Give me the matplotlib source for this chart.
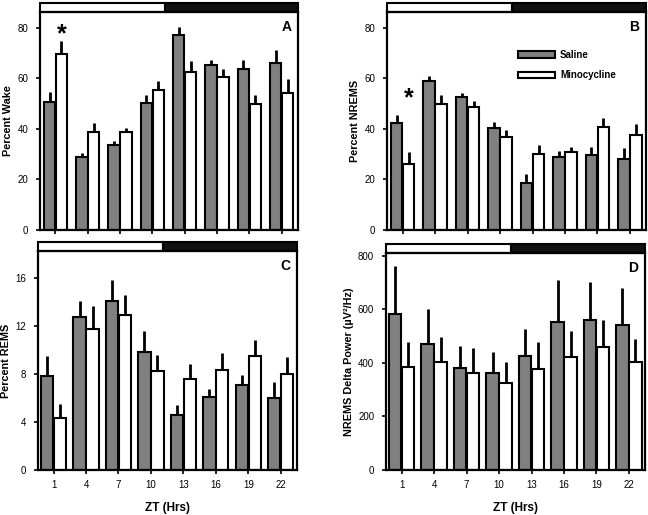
import numpy as np
import matplotlib
matplotlib.use("Agg")
import matplotlib.pyplot as plt
from matplotlib.patches import Rectangle

plt.rcParams['font.family'] = ['Liberation Sans', 'DejaVu Sans']

# ZT bins
zt = [1, 4, 7, 10, 13, 16, 19, 22]

# A: percent wake
wake_sal = [50.5, 28.8, 33.7, 50.4, 77.0, 65.2, 63.6, 66.1]
wake_sal_err = [4.1, 1.6, 1.7, 3.2, 3.4, 2.2, 3.7, 5.2]
wake_min = [69.7, 38.6, 38.6, 55.4, 62.7, 60.7, 49.7, 54.3]
wake_min_err = [5.0, 3.7, 1.6, 3.4, 4.3, 3.2, 3.9, 5.5]

# B: percent NREMS
nrem_sal = [42.2, 58.8, 52.5, 40.2, 18.8, 28.8, 29.6, 28.3]
nrem_sal_err = [3.2, 2.0, 1.7, 2.5, 3.2, 2.3, 3.2, 4.1]
nrem_min = [26.3, 49.9, 48.7, 36.8, 30.0, 30.7, 40.9, 37.7]
nrem_min_err = [4.4, 3.5, 2.2, 2.6, 3.5, 2.1, 3.3, 4.1]

# C: percent REMS
rem_sal = [7.8, 12.75, 14.1, 9.8, 4.55, 6.1, 7.1, 6.0]
rem_sal_err = [1.67, 1.36, 1.76, 1.76, 0.87, 0.66, 0.83, 1.31]
rem_min = [4.3, 11.77, 12.94, 8.26, 7.55, 8.3, 9.5, 8.0]
rem_min_err = [1.2, 1.92, 1.66, 1.34, 1.25, 1.45, 1.33, 1.41]

# D: NREMS delta power
delta_sal = [583, 470, 383, 361, 426, 552, 559, 542]
delta_sal_err = [180, 131, 82, 80, 102, 157, 143, 137]
delta_min = [386, 402, 364, 324, 376, 424, 460, 404]
delta_min_err = [93, 94, 91, 78, 101, 94, 100, 87]

GREY = '#808080'
fig = plt.figure(figsize=(6.48, 5.15), dpi=100)

panels = [
    # rect, sal, sal_err, min, min_err, ylim, yticks, ylabel, letter, width, xlabels
    ([0.0617, 0.5534, 0.398, 0.4233], wake_sal, wake_sal_err, wake_min, wake_min_err,
     86.3, [0, 20, 40, 60, 80], 'Percent Wake', 'A', 0.37, False),
    ([0.5972, 0.5534, 0.400, 0.4233], nrem_sal, nrem_sal_err, nrem_min, nrem_min_err,
     86.3, [0, 20, 40, 60, 80], 'Percent NREMS', 'B', 0.37, False),
    ([0.0586, 0.0874, 0.3997, 0.4252], rem_sal, rem_sal_err, rem_min, rem_min_err,
     18.25, [0, 4, 8, 12, 16], 'Percent REMS', 'C', 0.40, True),
    ([0.5957, 0.0874, 0.400, 0.4213], delta_sal, delta_sal_err, delta_min, delta_min_err,
     811, [0, 200, 400, 600, 800], u'NREMS Delta Power (\u00b5V\u00b2/Hz)', 'D', 0.40, True),
]

axes = []
for rect, s, se, m, me, ytop, yt, ylab, letter, w, xl in panels:
    ax = fig.add_axes(rect)
    x = np.arange(len(zt))
    ax.bar(x - w / 2, s, w * 0.95, color=GREY, edgecolor='black', linewidth=1.5, zorder=2)
    ax.bar(x + w / 2, m, w * 0.95, color='white', edgecolor='black', linewidth=1.5, zorder=2)
    # one-sided error bars
    ax.vlines(x - w / 2, s, np.array(s) + np.array(se), color='black', lw=2, zorder=1)
    ax.vlines(x + w / 2, m, np.array(m) + np.array(me), color='black', lw=2, zorder=1)

    ax.set_xlim(-0.48, 7.5)
    ax.set_ylim(0, ytop)
    ax.set_yticks(yt)
    ax.set_xticks(x)
    if xl:
        ax.set_xticklabels([str(z) for z in zt])
        ax.set_xlabel('ZT (Hrs)', fontsize=8.5, fontweight='bold', labelpad=8)
    else:
        ax.set_xticklabels([])
    ax.tick_params(axis='both', direction='out', length=3, width=1.2, labelsize=7)
    ax.tick_params(axis='y', pad=5.5)
    ax.tick_params(axis='x', pad=4.5)
    ax.set_ylabel(ylab, fontsize=7.8, fontweight='bold', labelpad=3)
    for sp in ax.spines.values():
        sp.set_linewidth(1.6)

    # light/dark bar above each panel
    h = 9.0 / 218
    ax.add_patch(Rectangle((0, 1), 0.484, h, transform=ax.transAxes, facecolor='white',
                           edgecolor='black', lw=1.5, clip_on=False))
    ax.add_patch(Rectangle((0.484, 1), 0.516, h, transform=ax.transAxes, facecolor='#111111',
                           edgecolor='black', lw=1.5, clip_on=False))

    ax.text(0.955, 0.93, letter, transform=ax.transAxes, fontsize=10, fontweight='bold',
            ha='center', va='center')
    axes.append(ax)

# significance markers at ZT1 (minocycline bar)
axes[0].text(0 + 0.37 / 2, 77.5, '*', fontsize=18, fontweight='bold', ha='center', va='center')
axes[1].text(0 + 0.37 / 2, 52, '*', fontsize=18, fontweight='bold', ha='center', va='center')

# legend in panel B
axb = axes[1]
axb.add_patch(Rectangle((0.506, 0.787), 0.143, 0.032, transform=axb.transAxes,
                        facecolor=GREY, edgecolor='black', lw=1.5))
axb.add_patch(Rectangle((0.506, 0.695), 0.143, 0.032, transform=axb.transAxes,
                        facecolor='white', edgecolor='black', lw=1.5))
axb.text(0.668, 0.803, 'Saline', transform=axb.transAxes, fontsize=7, fontweight='bold', va='center')
axb.text(0.668, 0.711, 'Minocycline', transform=axb.transAxes, fontsize=7, fontweight='bold', va='center')

fig.savefig('out.png', dpi=100)
